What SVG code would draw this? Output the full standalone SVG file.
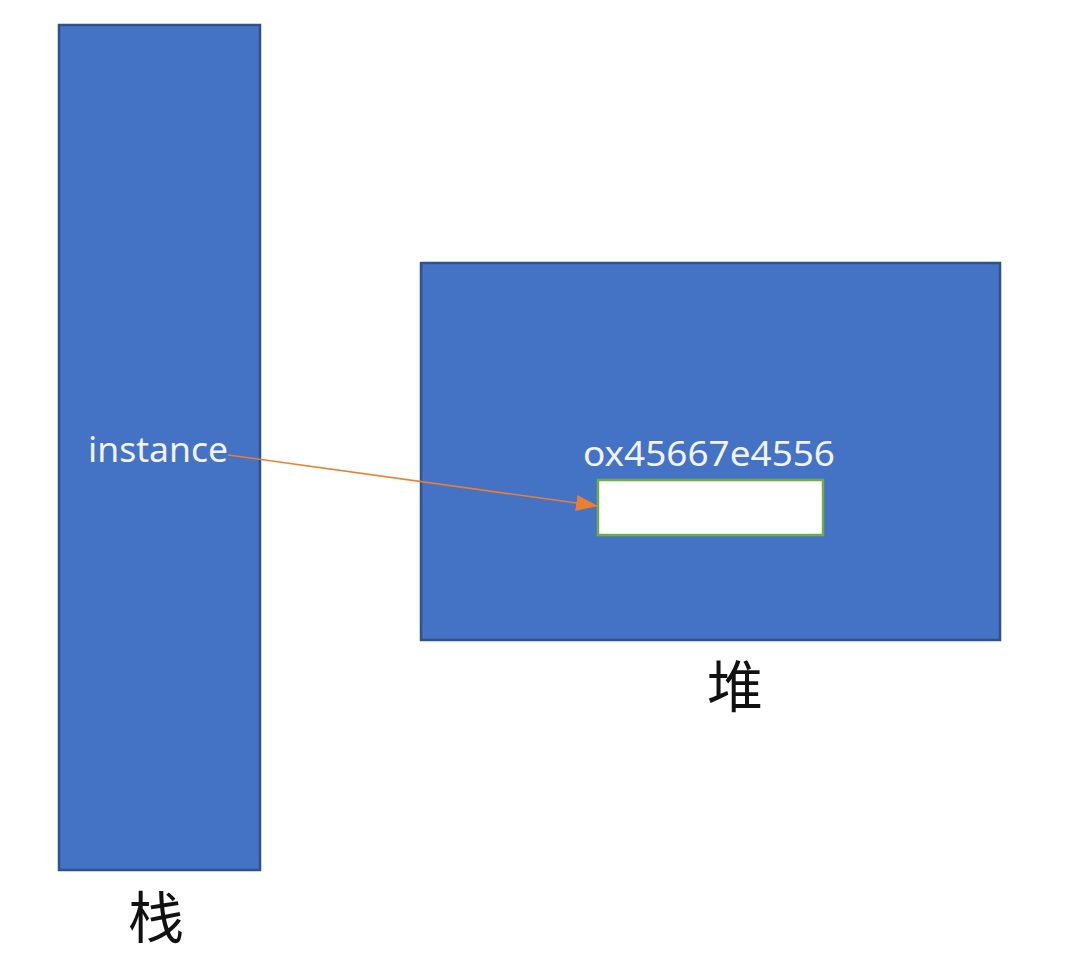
<svg xmlns="http://www.w3.org/2000/svg" width="1082" height="959" viewBox="0 0 1082 959">
<style>
.box{fill:#4472C4;stroke:#2F528F;stroke-width:2.5}
.lbl{font-family:"Noto Sans","Liberation Sans",sans-serif;fill:#F2F2F2;font-size:34px}
.cjk{font-family:"Noto Sans CJK SC",sans-serif;fill:#111;font-size:56px;text-anchor:middle}
</style>
<defs>
<marker id="ah" viewBox="0 0 10 10" refX="10" refY="5" markerWidth="22" markerHeight="16" markerUnits="userSpaceOnUse" orient="auto" preserveAspectRatio="none">
<path d="M0,0 L10,5 L0,10 Z" fill="#ED7D31"/>
</marker>
</defs>
<rect width="1082" height="959" fill="#fff"/>
<g id="stack">
<rect class="box" x="59" y="25" width="201" height="845"/>
<text class="lbl" x="88" y="462" textLength="140" lengthAdjust="spacingAndGlyphs">instance</text>
<text class="cjk" x="156" y="938">栈</text>
</g>
<g id="heap">
<rect class="box" x="421" y="263" width="579" height="377"/>
<text class="lbl" x="583" y="466" textLength="252" lengthAdjust="spacingAndGlyphs">ox45667e4556</text>
<text class="cjk" x="735" y="707">堆</text>
</g>
<g id="object">
<rect x="598" y="480" width="225" height="55" fill="#fff" stroke="#70AD47" stroke-width="2.5"/>
</g>
<g id="connectors">
<line x1="228" y1="455" x2="598" y2="506" stroke="#ED7D31" stroke-width="1.5" marker-end="url(#ah)"/>
</g>
</svg>
